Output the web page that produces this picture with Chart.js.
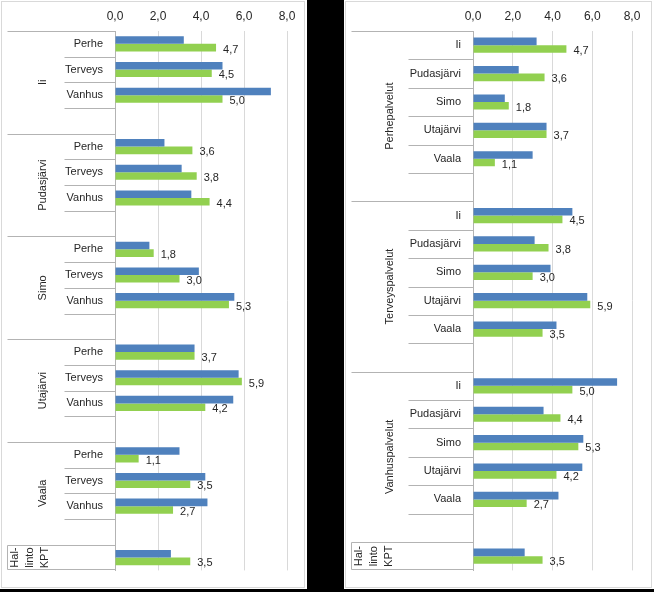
<!DOCTYPE html>
<html>
<head>
<meta charset="utf-8">
<title>Kustannukset kunnittain ja palveluittain</title>
<script src="https://cdn.jsdelivr.net/npm/chart.js@4.4.0/dist/chart.umd.min.js"></script>
<style>
  html, body { margin: 0; padding: 0; background: #000; }
  body { width: 654px; height: 592px; position: relative; overflow: hidden; }
  .panel { position: absolute; top: 0; height: 589px; background: #fff; }
  #leftPanel { left: 0; width: 307px; }
  #rightPanel { left: 344px; width: 310px; }
</style>
</head>
<body>
<div class="panel" id="leftPanel"><canvas id="leftChart" width="307" height="589"></canvas></div>
<div class="panel" id="rightPanel"><canvas id="rightChart" width="310" height="589"></canvas></div>
<script>
(function () {
  'use strict';

  // =================================================
  // DATA
  // =================================================
  const municipalities = ['Ii', 'Pudasjärvi', 'Simo', 'Utajärvi', 'Vaala'];
  const services = ['Perhe', 'Terveys', 'Vanhus'];
  const serviceGroups = ['Perhepalvelut', 'Terveyspalvelut', 'Vanhuspalvelut'];
  const adminLines = ['Hal-', 'linto', 'KPT'];

  // blue series, one value per municipality
  const bluePerhe = [3.2, 2.3, 1.6, 3.7, 3.0];
  const blueTerveys = [5.0, 3.1, 3.9, 5.75, 4.2];
  const blueVanhus = [7.25, 3.55, 5.55, 5.5, 4.3];
  const blueAdmin = 2.6;

  // green series (labelled), one value per municipality
  const greenPerhe = [4.7, 3.6, 1.8, 3.7, 1.1];
  const greenTerveys = [4.5, 3.8, 3.0, 5.9, 3.5];
  const greenVanhus = [5.0, 4.4, 5.3, 4.2, 2.7];
  const greenAdmin = 3.5;

  const xTicks = [0, 2, 4, 6, 8];

  const BLUE = '#4f81bd';
  const GREEN = '#92d050';
  const LINE = '#b3b3b3';
  const GRID = '#d9d9d9';
  const TEXT = '#262626';
  const FONT = '"Liberation Sans", Arial, sans-serif';

  const blueByService = [bluePerhe, blueTerveys, blueVanhus];
  const greenByService = [greenPerhe, greenTerveys, greenVanhus];

  const fmt = v => Number(v).toFixed(1).replace('.', ',');

  // =================================================
  // ROW BUILDERS
  // =================================================

  /** Left chart: municipality groups, services inside. */
  function rowsByMunicipality() {
    const rows = { labels: [], blue: [], green: [], groups: [] };
    municipalities.forEach((m, mi) => {
      rows.groups.push({ lines: [m], start: rows.labels.length, size: services.length + 1 });
      services.forEach((s, si) => {
        rows.labels.push(s);
        rows.blue.push(blueByService[si][mi]);
        rows.green.push(greenByService[si][mi]);
      });
      rows.labels.push(''); rows.blue.push(null); rows.green.push(null);
    });
    rows.groups.push({ lines: adminLines, start: rows.labels.length, size: 1, boxed: true });
    rows.labels.push(''); rows.blue.push(blueAdmin); rows.green.push(greenAdmin);
    return rows;
  }

  /** Right chart: service groups, municipalities inside. */
  function rowsByService() {
    const rows = { labels: [], blue: [], green: [], groups: [] };
    serviceGroups.forEach((g, si) => {
      rows.groups.push({ lines: [g], start: rows.labels.length, size: municipalities.length + 1 });
      municipalities.forEach((m, mi) => {
        rows.labels.push(m);
        rows.blue.push(blueByService[si][mi]);
        rows.green.push(greenByService[si][mi]);
      });
      rows.labels.push(''); rows.blue.push(null); rows.green.push(null);
    });
    rows.groups.push({ lines: adminLines, start: rows.labels.length, size: 1, boxed: true });
    rows.labels.push(''); rows.blue.push(blueAdmin); rows.green.push(greenAdmin);
    return rows;
  }

  // =================================================
  // CHART
  // =================================================

  function hline(ctx, x1, x2, y) {
    ctx.beginPath(); ctx.moveTo(x1, y); ctx.lineTo(x2, y); ctx.stroke();
  }

  function buildPanel(canvasId, rows, cfg) {
    const canvas = document.getElementById(canvasId);

    const decoPlugin = {
      id: 'panelDeco',
      afterDraw(chart) {
        const ctx = chart.ctx;
        const area = chart.chartArea;
        const yScale = chart.scales.y;
        const slot = yScale.getPixelForValue(1) - yScale.getPixelForValue(0);
        const axisX = Math.round(area.left) + 0.5;
        const outerX = 7.5, innerX = 64.5;

        ctx.save();
        // panel frame
        ctx.strokeStyle = GRID;
        ctx.lineWidth = 1;
        ctx.strokeRect(1.5, 1.5, chart.width - 4, chart.height - 3);

        ctx.strokeStyle = LINE;
        rows.groups.forEach(g => {
          const top = Math.round(yScale.getPixelForValue(g.start) - slot / 2) + 0.5;
          hline(ctx, outerX, axisX, top);
          for (let k = 1; k < g.size; k++) {
            const yy = Math.round(yScale.getPixelForValue(g.start + k) - slot / 2) + 0.5;
            hline(ctx, innerX, axisX, yy);
          }
          if (g.boxed) {
            const bottom = Math.round(area.bottom) - 0.5;
            hline(ctx, outerX, axisX, bottom);
            ctx.beginPath(); ctx.moveTo(outerX, top); ctx.lineTo(outerX, bottom); ctx.stroke();
          }

          // rotated group label
          const cy = yScale.getPixelForValue(g.start) - slot / 2 + (g.size * slot) / 2;
          const cx = g.boxed ? 30 : cfg.groupLabelX;
          const lh = 15;
          ctx.save();
          ctx.translate(cx, cy);
          ctx.rotate(-Math.PI / 2);
          ctx.fillStyle = TEXT;
          ctx.font = '11px ' + FONT;
          ctx.textAlign = 'center';
          ctx.textBaseline = 'middle';
          g.lines.forEach((t, i) => {
            ctx.fillText(t, 0, (i - (g.lines.length - 1) / 2) * lh);
          });
          ctx.restore();
        });

        // value labels for the green series
        const meta = chart.getDatasetMeta(1);
        ctx.fillStyle = TEXT;
        ctx.font = '11px ' + FONT;
        ctx.textAlign = 'left';
        ctx.textBaseline = 'middle';
        meta.data.forEach((bar, i) => {
          const v = rows.green[i];
          if (v == null) return;
          ctx.fillText(fmt(v), bar.x + 7, bar.y + 2);
        });
        ctx.restore();
      }
    };

    return new Chart(canvas.getContext('2d'), {
      type: 'bar',
      data: {
        labels: rows.labels,
        datasets: [
          { data: rows.blue, backgroundColor: BLUE, borderWidth: 0 },
          { data: rows.green, backgroundColor: GREEN, borderWidth: 0 }
        ]
      },
      options: {
        indexAxis: 'y',
        responsive: false,
        animation: false,
        events: [],
        categoryPercentage: cfg.categoryPercentage,
        barPercentage: 1,
        layout: { padding: { left: 0, top: 0, right: cfg.padRight, bottom: 12 } },
        plugins: { legend: { display: false }, tooltip: { enabled: false } },
        scales: {
          x: {
            position: 'top',
            min: xTicks[0],
            max: xTicks[xTicks.length - 1],
            afterBuildTicks: s => { s.ticks = xTicks.map(v => ({ value: v })); },
            afterFit: s => { s.height = 31; },
            grid: { color: GRID, drawTicks: false },
            border: { display: false },
            ticks: { padding: 7, color: TEXT, font: { family: FONT, size: 12 }, callback: v => fmt(v) }
          },
          y: {
            afterFit: s => { s.width = cfg.axisLeft; },
            grid: { display: false, drawTicks: false },
            border: { display: true, color: LINE, width: 1 },
            ticks: { autoSkip: false, padding: 12, color: TEXT, font: { family: FONT, size: 11 } }
          }
        }
      },
      plugins: [decoPlugin]
    });
  }

  document.addEventListener('DOMContentLoaded', function () {
    buildPanel('leftChart', rowsByMunicipality(), {
      axisLeft: 115, padRight: 20, groupLabelX: 43, categoryPercentage: 0.59
    });
    buildPanel('rightChart', rowsByService(), {
      axisLeft: 129, padRight: 22, groupLabelX: 46, categoryPercentage: 0.535
    });
  });
})();
</script>
</body>
</html>
